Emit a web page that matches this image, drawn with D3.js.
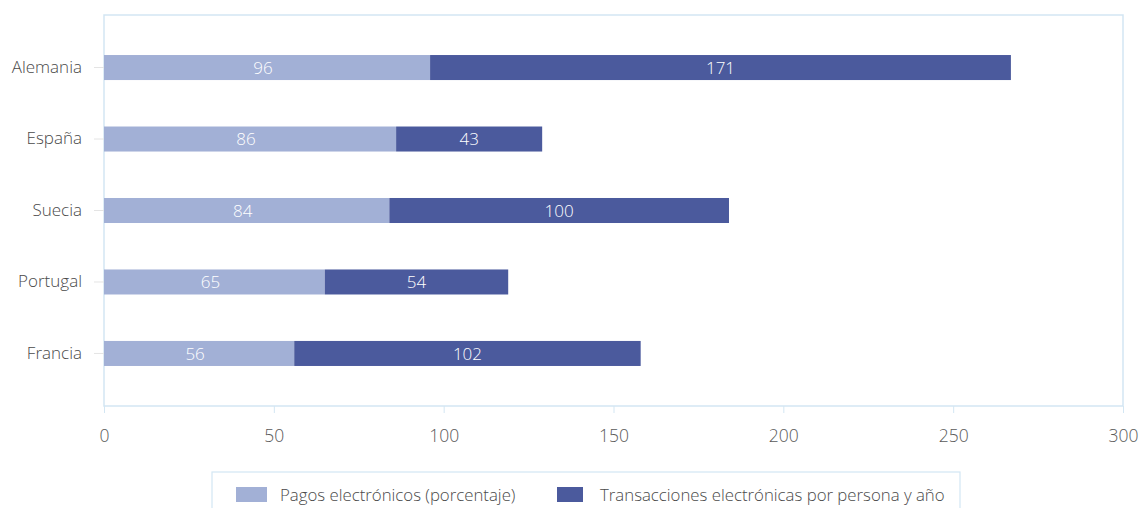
<!DOCTYPE html>
<html><head><meta charset="utf-8">
<script src="https://cdn.jsdelivr.net/npm/d3@7"></script>
<style>
body{margin:0;background:#fff;}
svg{display:block;}
text{font-family:"Open Sans","Noto Sans",sans-serif;font-weight:300;}
</style></head>
<body><svg id="c" width="1142" height="508"></svg>
<script>
const categories = ["Alemania","España","Suecia","Portugal","Francia"];
const pagos = [96,86,84,65,56];
const transacciones = [171,43,100,54,102];
const xTicks = [0,50,100,150,200,250,300];
const seriesNames = ["Pagos electrónicos (porcentaje)","Transacciones electrónicas por persona y año"];
const colors = ["#a2b0d6","#4b5a9d"];

const svg = d3.select("#c");
const plotL = 104, plotR = 1123, plotT = 15, plotB = 406;
const x = d3.scaleLinear().domain([0,300]).range([plotL,plotR]);
const y = d3.scaleBand().domain(categories).range([plotT,plotB]).paddingInner(0.65).paddingOuter(0.56);

svg.append("rect").attr("x",plotL).attr("y",plotT).attr("width",plotR-plotL).attr("height",plotB-plotT)
  .attr("fill","#fff").attr("stroke","#d3e6f3").attr("stroke-width",1.5);

const xa = svg.append("g").attr("transform",`translate(0,${plotB})`)
  .call(d3.axisBottom(x).tickValues(xTicks).tickSize(7).tickPadding(17));
xa.select(".domain").remove();
xa.selectAll("line").attr("stroke","#d3e6f3");
xa.selectAll("text").attr("fill","#5a5a5a").style("font-size","17.5px").style("font-family","'Open Sans',sans-serif").style("font-weight","300");

const ya = svg.append("g").attr("transform",`translate(${plotL},0)`)
  .call(d3.axisLeft(y).tickSize(10).tickPadding(12));
ya.select(".domain").remove();
ya.selectAll("line").attr("stroke","#e4e4e4");
ya.selectAll("text").attr("fill","#4a4a4a").style("font-size","17px").style("font-family","'Open Sans',sans-serif").style("font-weight","300");

const data = categories.map((c,i)=>({c, a:pagos[i], b:transacciones[i]}));
const g = svg.append("g");
g.selectAll(".a").data(data).join("rect").attr("class","a")
  .attr("x",x(0)).attr("y",d=>y(d.c)).attr("width",d=>x(d.a)-x(0)).attr("height",y.bandwidth())
  .attr("fill",colors[0]);
g.selectAll(".b").data(data).join("rect").attr("class","b")
  .attr("x",d=>x(d.a)).attr("y",d=>y(d.c)).attr("width",d=>x(d.a+d.b)-x(d.a)).attr("height",y.bandwidth())
  .attr("fill",colors[1]);
g.selectAll(".la").data(data).join("text").attr("class","la")
  .attr("x",d=>(x(0)+x(d.a))/2 - 4).attr("y",d=>y(d.c)+y.bandwidth()/2).attr("dy","0.36em")
  .attr("text-anchor","middle").attr("fill","#fff").style("font-size","17px").text(d=>d.a);
g.selectAll(".lb").data(data).join("text").attr("class","lb")
  .attr("x",d=>(x(d.a)+x(d.a+d.b))/2).attr("y",d=>y(d.c)+y.bandwidth()/2).attr("dy","0.36em")
  .attr("text-anchor","middle").attr("fill","#fff").style("font-size","17px").text(d=>d.b);

const lg = svg.append("g");
lg.append("rect").attr("x",212).attr("y",472).attr("width",748).attr("height",50)
  .attr("fill","#fff").attr("stroke","#d3e6f3").attr("stroke-width",1.2);
const lx = [236,557];
const tx = [280,600];
seriesNames.forEach((n,i)=>{
  lg.append("rect").attr("x",lx[i]).attr("y",487).attr("width",i===0?31:26).attr("height",15).attr("fill",colors[i]);
  lg.append("text").attr("x",tx[i]).attr("y",495).attr("dy","0.36em").attr("fill","#4a4a4a")
    .style("font-size","16.8px").text(n);
});
</script></body></html>
